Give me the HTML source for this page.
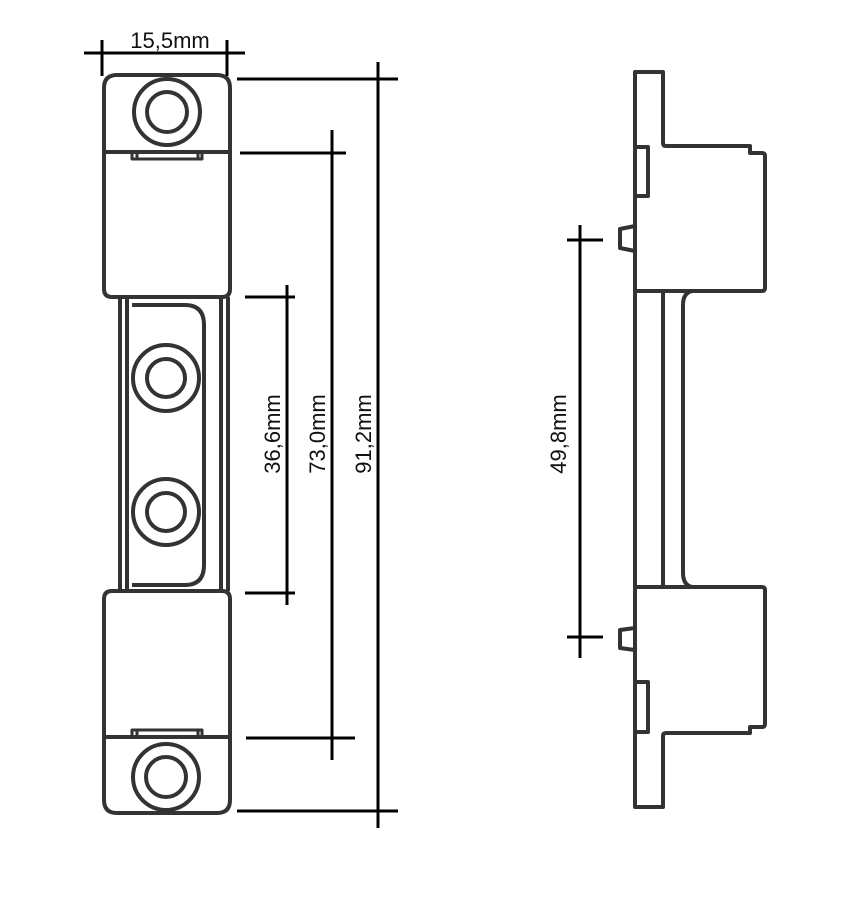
<!DOCTYPE html>
<html><head><style>body{margin:0;background:#fff}svg{display:block}</style></head><body>
<svg width="847" height="901" viewBox="0 0 847 901" xmlns="http://www.w3.org/2000/svg">
<g fill="none" stroke="#333" stroke-width="4" stroke-linejoin="round">
<path d="M104 152 V88 Q104 75 117 75 H217 Q230 75 230 88 V152"/>
<path d="M104 152 H230 M104 152 V289 Q104 297 112 297 H222 Q230 297 230 289 V152"/>
<path d="M132 152 V159 H202 V152 M137 153 V159 M198 153 V159" stroke-width="3"/>
<circle cx="167" cy="112" r="33"/><circle cx="167" cy="112" r="20"/>
<path d="M120 297 V591 M127 297 V591 M221 297 V591 M228 297 V591"/>
<path d="M132 305 H185 Q204 305 204 325 V565 Q204 585 185 585 H132"/>
<circle cx="166" cy="378" r="33"/><circle cx="166" cy="378" r="19"/>
<circle cx="166" cy="512" r="33"/><circle cx="166" cy="512" r="19"/>
<path d="M104 737 V599 Q104 591 112 591 H222 Q230 591 230 599 V737"/>
<path d="M104 737 H230 M104 737 V800 Q104 813 117 813 H217 Q230 813 230 800 V737"/>
<path d="M132 737 V730 H202 V737 M137 730 V737 M198 730 V737" stroke-width="3"/>
<circle cx="166" cy="777" r="33"/><circle cx="166" cy="777" r="20"/>
<path d="M635 72 H663 V143 Q663 146 666 146 H750 V153 H762 Q765 153 765 156 V288 Q765 291 762 291 H635 Z"/>
<path d="M635 587 H762 Q765 587 765 590 V724 Q765 727 762 727 H750 V733 H666 Q663 733 663 736 V807 H635 Z"/>
<path d="M635 291 V587"/>
<path d="M663 291 V587"/>
<path d="M692 291 Q683 293 683 305 V573 Q683 585 692 587"/>
<path d="M635 147 H648 V196 H635"/>
<path d="M635 682 H648 V732 H635"/>
<path d="M635 226 L620 229 V248 L635 251"/>
<path d="M635 628 L620 630 V648 L635 650"/>
</g>
<g stroke="#000" stroke-width="3">
<line x1="84" y1="53" x2="245" y2="53"/><line x1="102" y1="40" x2="102" y2="76"/><line x1="227" y1="40" x2="227" y2="76"/>
<line x1="378" y1="62" x2="378" y2="828"/><line x1="237" y1="79" x2="398" y2="79"/><line x1="237" y1="811" x2="398" y2="811"/>
<line x1="332" y1="130" x2="332" y2="760"/><line x1="240" y1="153" x2="346" y2="153"/><line x1="246" y1="738" x2="355" y2="738"/>
<line x1="287" y1="285" x2="287" y2="605"/><line x1="245" y1="297" x2="295" y2="297"/><line x1="245" y1="593" x2="295" y2="593"/>
<line x1="580" y1="225" x2="580" y2="658"/><line x1="567" y1="240" x2="603" y2="240"/><line x1="567" y1="637" x2="603" y2="637"/>
</g>
<g font-family="Liberation Sans, sans-serif" font-size="22" fill="#111" text-anchor="middle">
<text x="170" y="48">15,5mm</text>
<text transform="translate(280,434) rotate(-90)">36,6mm</text>
<text transform="translate(325,434) rotate(-90)">73,0mm</text>
<text transform="translate(371,434) rotate(-90)">91,2mm</text>
<text transform="translate(566,434) rotate(-90)">49,8mm</text>
</g>
</svg>
</body></html>
